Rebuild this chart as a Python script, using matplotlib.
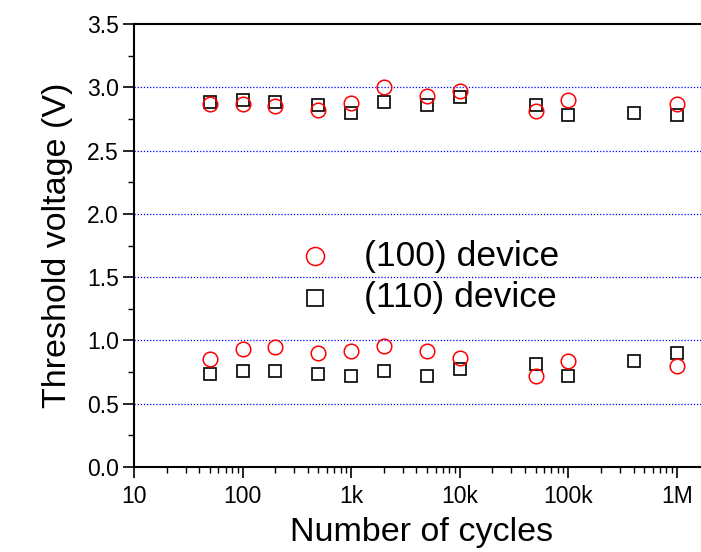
import numpy as np
import matplotlib
matplotlib.use('Agg')
import matplotlib.pyplot as plt
from matplotlib.ticker import FixedLocator, FixedFormatter, LogLocator, MultipleLocator, NullFormatter

plt.rcParams['font.family'] = ['Liberation Sans', 'DejaVu Sans']

# cycles
cycles_100 = [50, 100, 200, 500, 1e3, 2e3, 5e3, 1e4, 5e4, 1e5, 1e6]
cycles_110 = [50, 100, 200, 500, 1e3, 2e3, 5e3, 1e4, 5e4, 1e5, 4e5, 1e6]

# (100) device: high state / low state
vth_100_hi = [2.87, 2.87, 2.855, 2.82, 2.875, 3.0, 2.93, 2.97, 2.815, 2.90, 2.87]
vth_100_lo = [0.857, 0.934, 0.95, 0.897, 0.918, 0.958, 0.918, 0.862, 0.716, 0.838, 0.798]

# (110) device: high state / low state
vth_110_hi = [2.88, 2.90, 2.88, 2.86, 2.80, 2.88, 2.86, 2.92, 2.86, 2.78, 2.80, 2.78]
vth_110_lo = [0.737, 0.756, 0.756, 0.737, 0.719, 0.756, 0.719, 0.777, 0.817, 0.719, 0.838, 0.897]

xtick_vals = [10, 100, 1e3, 1e4, 1e5, 1e6]
xtick_labels = ['10', '100', '1k', '10k', '100k', '1M']

fig = plt.figure(figsize=(7.01, 5.52), dpi=100)
ax = fig.add_axes([134/701, 85/552, 597/701, 443/552])

circ = dict(marker='o', linestyle='none', markersize=10.5, markerfacecolor='none',
            markeredgecolor='red', markeredgewidth=1.1)
sq = dict(marker='s', linestyle='none', markersize=9.3, markerfacecolor='none',
          markeredgecolor='black', markeredgewidth=1.2)

ax.plot(cycles_110, vth_110_hi, **sq)
ax.plot(cycles_110, vth_110_lo, **sq)
ax.plot(cycles_100, vth_100_hi, **circ)
ax.plot(cycles_100, vth_100_lo, **circ)

ax.set_xscale('log')
ax.set_xlim(10, 10**6.5)
ax.set_ylim(0, 3.5)

ax.xaxis.set_major_locator(FixedLocator(xtick_vals))
ax.xaxis.set_major_formatter(FixedFormatter(xtick_labels))
ax.xaxis.set_minor_locator(LogLocator(base=10, subs=np.arange(2, 10)))
ax.xaxis.set_minor_formatter(NullFormatter())
ax.yaxis.set_major_locator(MultipleLocator(0.5))
ax.yaxis.set_minor_locator(MultipleLocator(0.25))
ax.yaxis.set_major_formatter(plt.FuncFormatter(lambda v, p: f'{v:.1f}'))

ax.tick_params(which='major', direction='out', length=8, width=1.2, labelsize=16.5)
ax.tick_params(which='minor', direction='out', length=4.5, width=1.0)
ax.tick_params(axis='x', pad=5)
ax.tick_params(axis='y', pad=3)

for y in [0.5, 1.0, 1.5, 2.0, 2.5, 3.0]:
    ax.axhline(y, color='blue', linestyle=(0, (1, 1.5)), linewidth=0.9, zorder=0)

for s in ['left', 'bottom', 'top']:
    ax.spines[s].set_linewidth(1.5)
ax.spines['right'].set_visible(False)

ax.set_xlabel('Number of cycles', fontsize=24.5)
ax.xaxis.set_label_coords((422 - 134) / 597, -0.112)
ax.set_ylabel('Threshold voltage (V)', fontsize=24.5, labelpad=10)

# legend drawn as markers + text like the original
leg_c = dict(circ, markersize=13)
leg_s = dict(sq, markersize=11.5)
fig.lines.append(plt.Line2D([315/701], [1 - 256/552], transform=fig.transFigure, **leg_c))
fig.lines.append(plt.Line2D([315/701], [1 - 298/552], transform=fig.transFigure, **leg_s))
fig.text(364/701, 1 - 256/552, '(100) device', fontsize=25.5, va='center', ha='left')
fig.text(364/701, 1 - 298/552, '(110) device', fontsize=25.5, va='center', ha='left')

fig.savefig('out.png', dpi=100)
